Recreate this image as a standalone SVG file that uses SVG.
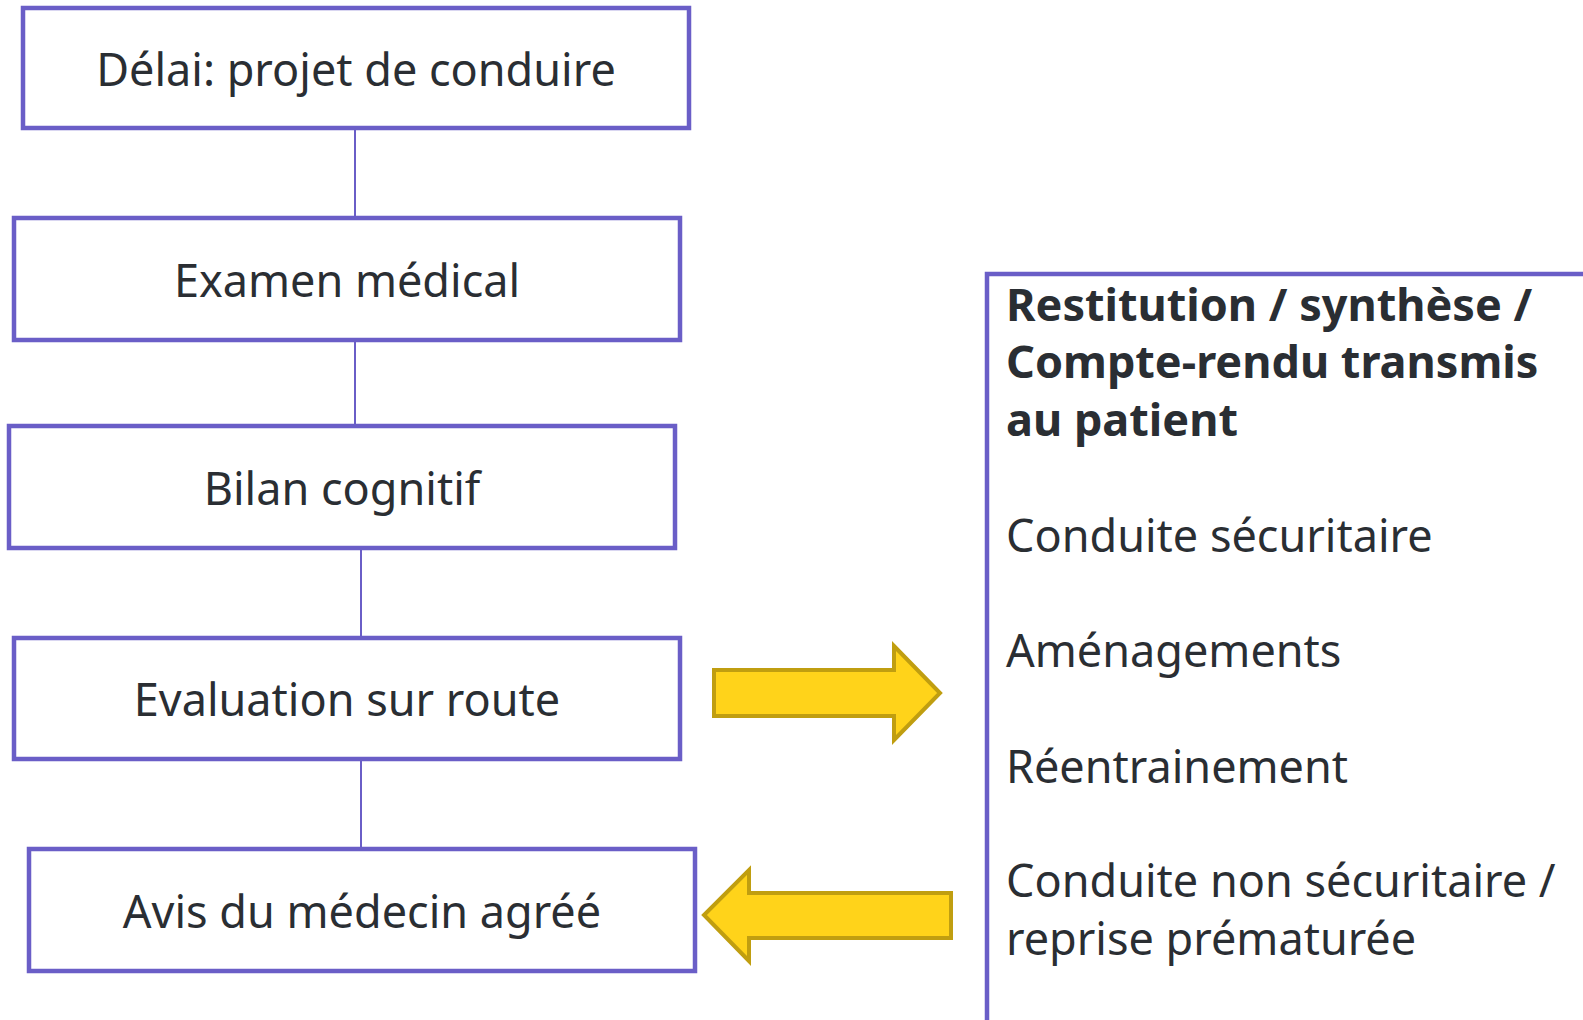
<svg xmlns="http://www.w3.org/2000/svg" width="1583" height="1020" viewBox="0 0 1583 1020">
<style>
.box{fill:#fff;stroke:#6A5EC7;stroke-width:4.5}
.conn{stroke:#6A5EC7;stroke-width:2;fill:none}
.t{font-family:"Noto Sans","Open Sans",sans-serif;font-size:45px;fill:#2A2E33}
.c{text-anchor:middle}
.b{font-weight:bold}
.arr{fill:#FFD31A;stroke:#C09E10;stroke-width:4;stroke-linejoin:miter}
</style>
<rect width="1583" height="1020" fill="#fff"/>
<g id="connectors">
<line class="conn" x1="355" y1="129" x2="355" y2="218"/>
<line class="conn" x1="355" y1="340" x2="355" y2="426"/>
<line class="conn" x1="361" y1="548" x2="361" y2="638"/>
<line class="conn" x1="361" y1="759" x2="361" y2="849"/>
</g>
<g id="n1"><rect class="box" x="23" y="8" width="666" height="120"/><text class="t c" x="356" y="86">Délai: projet de conduire</text></g>
<g id="n2"><rect class="box" x="14" y="218" width="666" height="122"/><text class="t c" x="347" y="297">Examen médical</text></g>
<g id="n3"><rect class="box" x="9" y="426" width="666" height="122"/><text class="t c" x="342" y="505">Bilan cognitif</text></g>
<g id="n4"><rect class="box" x="14" y="638" width="666" height="121"/><text class="t c" x="347" y="716">Evaluation sur route</text></g>
<g id="n5"><rect class="box" x="29" y="849" width="666" height="122"/><text class="t c" x="362" y="928">Avis du médecin agréé</text></g>
<g id="arrow-right"><polygon class="arr" points="714,670 894,670 894,646 940,693 894,740 894,716 714,716"/></g>
<g id="arrow-left"><polygon class="arr" points="951,893 749,893 749,870 704,915 749,961 749,938 951,938"/></g>
<g id="panel">
<rect class="box" x="987" y="274" width="610" height="760"/>
<text class="t b" x="1006" y="321">Restitution / synthèse /</text>
<text class="t b" x="1006" y="378">Compte-rendu transmis</text>
<text class="t b" x="1006" y="436">au patient</text>
<text class="t" x="1006" y="552">Conduite sécuritaire</text>
<text class="t" x="1006" y="667">Aménagements</text>
<text class="t" x="1006" y="783">Réentrainement</text>
<text class="t" x="1006" y="897">Conduite non sécuritaire /</text>
<text class="t" x="1006" y="955">reprise prématurée</text>
</g>
</svg>
